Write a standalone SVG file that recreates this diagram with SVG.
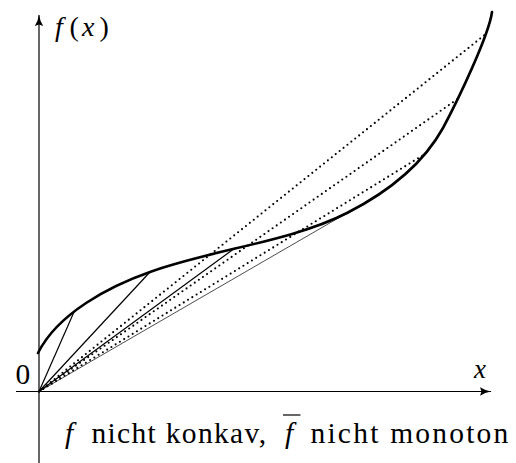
<svg xmlns="http://www.w3.org/2000/svg" width="516" height="463" viewBox="0 0 516 463">
<text x="55" y="35.5" font-family="Liberation Serif" font-size="28" font-style="italic">f</text>
<text x="69.5" y="35.5" font-family="Liberation Serif" font-size="28">(</text>
<text x="82" y="35.5" font-family="Liberation Serif" font-size="28" font-style="italic">x</text>
<text x="99.5" y="35.5" font-family="Liberation Serif" font-size="28">)</text>
<text x="15.5" y="384" font-family="Liberation Serif" font-size="29.5">0</text>
<text x="474" y="378" font-family="Liberation Serif" font-size="27" font-style="italic">x</text>
<text x="65" y="443.3" font-family="Liberation Serif" font-size="29.5" font-style="italic">f</text>
<text x="91.5" y="443.3" font-family="Liberation Serif" font-size="29.5" textLength="174.5" lengthAdjust="spacing">nicht konkav,</text>
<text x="285" y="443.3" font-family="Liberation Serif" font-size="29.5" font-style="italic">f</text>
<text x="310.5" y="443.3" font-family="Liberation Serif" font-size="29.5" textLength="197.8" lengthAdjust="spacing">nicht monoton</text>
<style>
.ax{stroke:#000;stroke-width:1.2;fill:none}
.curve{stroke:#000;stroke-width:2.6;fill:none;stroke-linecap:round}
.chord{stroke:#000;stroke-width:1.2;fill:none}
.thin{stroke:#000;stroke-width:0.7;fill:none}
.dot{stroke:#000;stroke-width:2.1;fill:none;stroke-dasharray:0 5;stroke-linecap:round}
</style>
<defs>
<marker id="arr" markerUnits="userSpaceOnUse" markerWidth="14" markerHeight="12" refX="12" refY="6" orient="auto" viewBox="0 0 14 12">
<path d="M12,6 Q6,7 1,10.2 L2.5,6 L1,1.8 Q6,5 12,6 Z" fill="#000"/>
</marker>
</defs>
<line x1="283" y1="415" x2="300.5" y2="415" stroke="#000" stroke-width="1.2"/>
<g id="axes">
<line class="ax" x1="39" y1="463" x2="39" y2="15" marker-end="url(#arr)"/>
<line class="ax" x1="16" y1="391.5" x2="491" y2="391.5" marker-end="url(#arr)"/>
</g>
<g id="connectors">
<line class="chord" x1="39" y1="391.5" x2="74" y2="312"/>
<line class="chord" x1="39" y1="391.5" x2="150" y2="272"/>
<line class="chord" x1="39" y1="391.5" x2="235" y2="248"/>
<line class="thin" x1="39" y1="391.5" x2="347" y2="213"/>
<line class="dot" x1="39" y1="391.5" x2="425" y2="154"/>
<line class="dot" x1="39" y1="391.5" x2="459" y2="98"/>
<line class="dot" x1="39" y1="391.5" x2="486.5" y2="33.5"/>
</g>
<g id="curve">
<path class="curve" d="M38,353 C58,313 110,286 150,272 C210,250 290,242 347,213 C387,192.6 423,164 443,128 C458,100 489,35 492,12"/>
</g>
</svg>
